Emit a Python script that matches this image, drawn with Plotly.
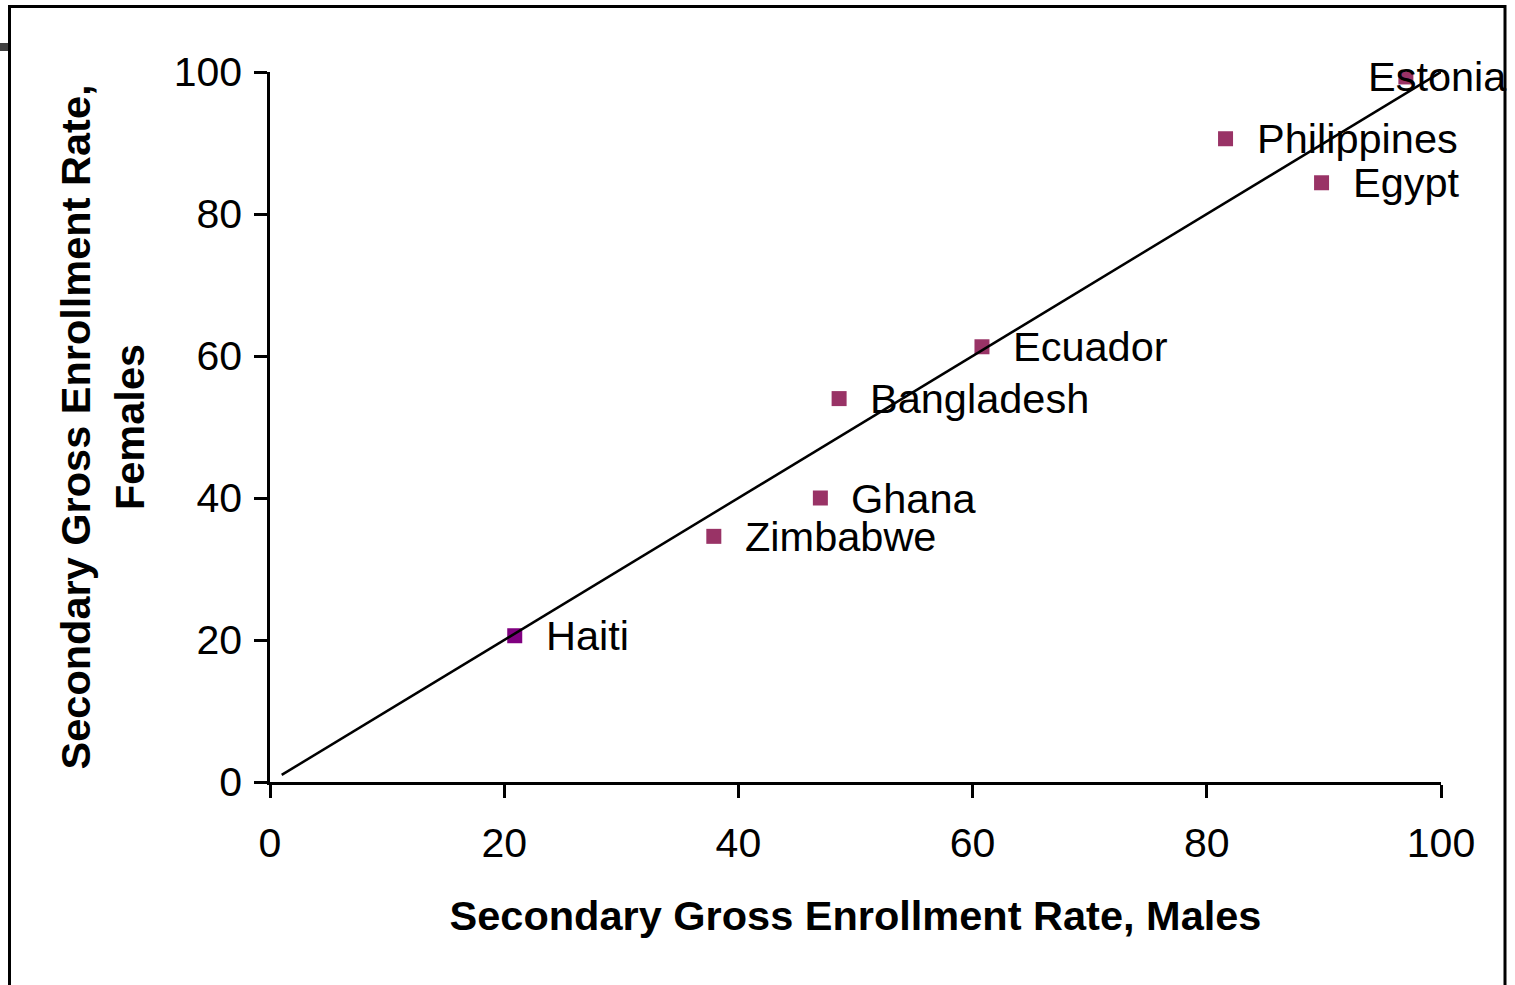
import plotly.graph_objects as go

countries = ["Haiti", "Zimbabwe", "Ghana", "Bangladesh", "Ecuador", "Philippines", "Egypt", "Estonia"]
males = [20.9, 37.9, 47.0, 48.6, 60.8, 81.6, 89.8, 97.0]
females = [20.6, 34.6, 40.0, 54.0, 61.3, 90.6, 84.4, 99.3]
line_x = [1, 100]
line_y = [1, 100]
x_ticks = [0, 20, 40, 60, 80, 100]
y_ticks = [0, 20, 40, 60, 80, 100]

FONT = "Liberation Sans, Arial, sans-serif"
MAROON = "#993366"
PURPLE = "#800080"

fig = go.Figure()

fig.add_trace(go.Scatter(
    x=males[1:], y=females[1:], mode="markers",
    marker=dict(symbol="square", size=15, color=MAROON, line=dict(width=0)),
    hoverinfo="skip", showlegend=False,
))
fig.add_trace(go.Scatter(
    x=males[:1], y=females[:1], mode="markers",
    marker=dict(symbol="square", size=15, color=PURPLE, line=dict(width=0)),
    hoverinfo="skip", showlegend=False,
))
# Diagonal line (drawn above markers)
fig.add_trace(go.Scatter(
    x=line_x, y=line_y, mode="lines",
    line=dict(color="black", width=2.5),
    hoverinfo="skip", showlegend=False,
))

special_shift = {"Estonia": -40}
for name, xv, yv in zip(countries, males, females):
    fig.add_annotation(
        x=xv, y=yv, xref="x", yref="y", text=name, showarrow=False,
        xanchor="left", yanchor="middle",
        xshift=special_shift.get(name, 29), yshift=0,
        font=dict(family=FONT, size=41.5, color="black"),
    )

L, R, T, B = 270, 1441, 72, 782
def px_x(p):
    return (p - L) / (R - L)
def px_y(p):
    return (B - p) / (B - T)

# outer frame
fig.add_shape(type="rect", xref="paper", yref="paper",
              x0=px_x(9.5), x1=px_x(1505), y0=px_y(1000), y1=px_y(6.5),
              line=dict(color="black", width=3), fillcolor="rgba(0,0,0,0)", layer="below")
# small dash at the left edge
fig.add_shape(type="line", xref="paper", yref="paper",
              x0=px_x(0), x1=px_x(8), y0=px_y(47), y1=px_y(47),
              line=dict(color="#404040", width=8))

axis_common = dict(
    range=[0, 100], showgrid=False, zeroline=False,
    showline=True, linecolor="black", linewidth=2.5,
    ticks="outside", ticklen=13, tickwidth=2.5, tickcolor="black",
    tickfont=dict(family=FONT, size=41, color="black"),
    fixedrange=True,
)

fig.update_layout(
    width=1515, height=985,
    margin=dict(l=L, r=1515 - R, t=T, b=985 - B),
    paper_bgcolor="white", plot_bgcolor="white",
    xaxis=dict(**axis_common, tickvals=x_ticks, ticklabelstandoff=10,
               title=dict(text="Secondary Gross Enrollment Rate, Males",
                          font=dict(family=FONT, size=41.5, color="black", weight="bold"),
                          standoff=36)),
    yaxis=dict(**axis_common, tickvals=y_ticks, ticklabelstandoff=4,
               title=dict(text="Secondary Gross Enrollment Rate,<br>Females",
                          font=dict(family=FONT, size=41.5, color="black", weight="bold"),
                          standoff=17)),
    showlegend=False,
)

fig.write_html("out.html", config={"displayModeBar": False},
               post_script="document.body.style.margin='0';document.body.style.overflow='hidden';")
